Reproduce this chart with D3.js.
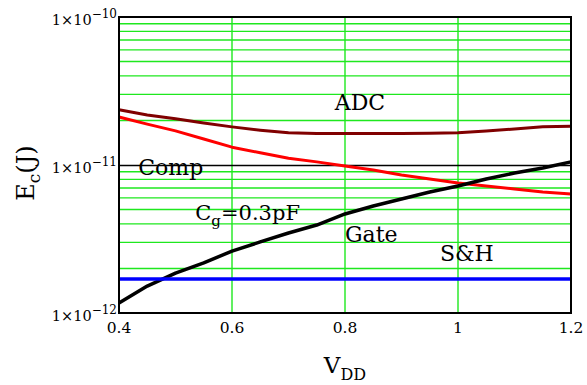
<!DOCTYPE html>
<html>
<head>
<meta charset="utf-8">
<script src="https://cdn.jsdelivr.net/npm/d3@7"></script>
<style>
  body { margin: 0; background: #fff; }
  text { font-family: "DejaVu Serif", serif; fill: #000; }
</style>
</head>
<body>
<div id="chart"></div>
<script>
// supply voltage (V)
const vdd = [0.4, 0.45, 0.5, 0.55, 0.6, 0.65, 0.7, 0.75, 0.8, 0.85, 0.9, 0.95, 1.0, 1.05, 1.1, 1.15, 1.2];
// energy per conversion (J)
const adc = [2.36e-11, 2.18e-11, 2.05e-11, 1.92e-11, 1.81e-11, 1.72e-11, 1.65e-11, 1.63e-11, 1.63e-11,
             1.63e-11, 1.63e-11, 1.64e-11, 1.65e-11, 1.70e-11, 1.75e-11, 1.81e-11, 1.83e-11];
const comp = [2.11e-11, 1.89e-11, 1.70e-11, 1.50e-11, 1.32e-11, 1.21e-11, 1.11e-11, 1.05e-11, 9.85e-12,
              9.25e-12, 8.56e-12, 8.04e-12, 7.56e-12, 7.21e-12, 6.88e-12, 6.57e-12, 6.37e-12];
const gate = [1.17e-12, 1.52e-12, 1.86e-12, 2.18e-12, 2.62e-12, 3.02e-12, 3.47e-12, 3.93e-12, 4.67e-12,
              5.28e-12, 5.89e-12, 6.57e-12, 7.21e-12, 8.04e-12, 8.83e-12, 9.54e-12, 1.05e-11];
const shVdd = [0.4, 1.2];
const sh = [1.70e-12, 1.70e-12];

const xTicks = [0.4, 0.6, 0.8, 1, 1.2];
const yTicks = [1e-12, 1e-11, 1e-10];
const yExps = ['12', '11', '10'];

const width = 587;
const height = 385;
const marginLeft = 119;
const marginRight = 16;
const marginTop = 17;
const marginBottom = 72;

const svg = d3.select('#chart')
  .append('svg')
  .attr('width', width)
  .attr('height', height);

const x = d3.scaleLinear()
  .domain([0.4, 1.2])
  .range([marginLeft, width - marginRight]);

const y = d3.scaleLog()
  .domain([1e-12, 1e-10])
  .range([height - marginBottom, marginTop]);

const green = '#1ee81e';

// minor horizontal grid (2..9 of each decade)
const minor = [];
[1e-12, 1e-11].forEach(d => { for (let k = 2; k <= 9; k++) minor.push(d * k); });
svg.append('g')
  .selectAll('line')
  .data(minor)
  .join('line')
  .attr('x1', x.range()[0]).attr('x2', x.range()[1])
  .attr('y1', d => y(d)).attr('y2', d => y(d))
  .attr('stroke', green)
  .attr('stroke-width', 1.4);

// vertical grid
svg.append('g')
  .selectAll('line')
  .data(xTicks.slice(1, -1))
  .join('line')
  .attr('x1', d => x(d)).attr('x2', d => x(d))
  .attr('y1', y.range()[0]).attr('y2', y.range()[1])
  .attr('stroke', green)
  .attr('stroke-width', 1.4);

// decade line
svg.append('line')
  .attr('x1', x.range()[0]).attr('x2', x.range()[1])
  .attr('y1', Math.round(y(1e-11)) + 0.5).attr('y2', Math.round(y(1e-11)) + 0.5)
  .attr('stroke', '#000')
  .attr('stroke-width', 1.3);

const line = d3.line()
  .x(d => x(d[0]))
  .y(d => y(d[1]));

const series = [
  { xs: vdd, ys: adc, color: '#800000', w: 3 },
  { xs: vdd, ys: comp, color: '#ff0000', w: 3 },
  { xs: vdd, ys: gate, color: '#000000', w: 3.5 },
  { xs: shVdd, ys: sh, color: '#0000ff', w: 3.5 }
];

svg.append('g')
  .attr('fill', 'none')
  .attr('stroke-linejoin', 'round')
  .selectAll('path')
  .data(series)
  .join('path')
  .attr('stroke', d => d.color)
  .attr('stroke-width', d => d.w)
  .attr('d', d => line(d.xs.map((v, i) => [v, d.ys[i]])));

// frame
svg.append('rect')
  .attr('x', x.range()[0]).attr('y', y.range()[1])
  .attr('width', x.range()[1] - x.range()[0])
  .attr('height', y.range()[0] - y.range()[1])
  .attr('fill', 'none')
  .attr('stroke', '#000')
  .attr('stroke-width', 2);

// x tick labels
svg.append('g')
  .selectAll('text')
  .data(xTicks)
  .join('text')
  .attr('x', d => x(d))
  .attr('y', y.range()[0] + 20)
  .attr('text-anchor', 'middle')
  .attr('font-size', 15.5)
  .text(d => d3.format('~g')(d));

// y tick labels: 1×10^-n
const yl = svg.append('g')
  .selectAll('text')
  .data(yTicks)
  .join('text')
  .attr('x', marginLeft - 2)
  .attr('y', d => y(d) + 8)
  .attr('text-anchor', 'end')
  .attr('font-size', 14.5);
yl.append('tspan').text('1×10');
yl.append('tspan')
  .attr('font-size', 12)
  .attr('dy', -7)
  .text((d, i) => '\u2212' + yExps[i]);

// axis titles
const yt = svg.append('text')
  .attr('transform', `translate(34,${(y.range()[0] + y.range()[1]) / 2 + 8}) rotate(-90)`)
  .attr('text-anchor', 'middle')
  .attr('font-size', 24);
yt.append('tspan').text('E');
yt.append('tspan').attr('font-size', 17).attr('dy', 6).text('c');
yt.append('tspan').attr('dy', -6).text('(J)');

const xt = svg.append('text')
  .attr('x', (x.range()[0] + x.range()[1]) / 2)
  .attr('y', 373)
  .attr('text-anchor', 'middle')
  .attr('font-size', 23);
xt.append('tspan').text('V');
xt.append('tspan').attr('font-size', 16).attr('dy', 7).text('DD');

// curve annotations (data coords)
const labels = [
  { t: 'ADC', vx: 0.782, vy: 2.36e-11, fs: 22 },
  { t: 'Comp', vx: 0.434, vy: 8.6e-12, fs: 22 },
  { t: 'Gate', vx: 0.8, vy: 3.02e-12, fs: 22 },
  { t: 'S&H', vx: 0.968, vy: 2.25e-12, fs: 22 }
];
svg.append('g')
  .selectAll('text')
  .data(labels)
  .join('text')
  .attr('x', d => x(d.vx))
  .attr('y', d => y(d.vy))
  .attr('font-size', d => d.fs)
  .text(d => d.t);

const cg = svg.append('text')
  .attr('x', x(0.535))
  .attr('y', y(4.25e-12))
  .attr('font-size', 21);
cg.append('tspan').text('C');
cg.append('tspan').attr('font-size', 15).attr('dy', 6).text('g');
cg.append('tspan').attr('dy', -6).text('=0.3pF');
</script>
</body>
</html>
